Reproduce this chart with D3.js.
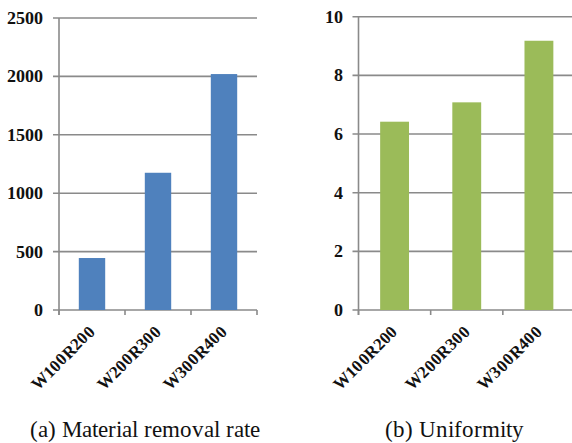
<!DOCTYPE html>
<html>
<head>
<meta charset="utf-8">
<script src="https://cdn.jsdelivr.net/npm/d3@7"></script>
<style>
  @font-face { font-family: "ChartSerif"; src: local("Liberation Serif"), local("LiberationSerif"), local("Times New Roman"); font-weight: 400; }
  @font-face { font-family: "ChartSerif"; src: local("Liberation Serif Bold"), local("LiberationSerif-Bold"), local("Times New Roman Bold"); font-weight: 700; }
  html, body { margin: 0; padding: 0; background: #fff; }
  svg { display: block; }
  svg text { font-family: "ChartSerif", "Liberation Serif", "Times New Roman", Tinos, FreeSerif; }
</style>
</head>
<body>
<svg id="chart" width="572" height="443"></svg>
<script>
// Processing conditions shared by both panels
const categories = ["W100R200", "W200R300", "W300R400"];

// (a) Material removal rate
const removalRate = [445, 1175, 2020];
const removalTicks = [0, 500, 1000, 1500, 2000, 2500];

// (b) Uniformity
const uniformity = [6.42, 7.08, 9.18];
const uniformityTicks = [0, 2, 4, 6, 8, 10];

const captions = ["(a) Material removal rate", "(b) Uniformity"];

const svg = d3.select("#chart");
const gridColor = "#8a8a8a";

function panel(opts) {
  const g = svg.append("g");
  const x = d3.scaleBand().domain(categories).range([opts.x0, opts.x1]).padding(0);
  const y = d3.scaleLinear().domain([0, opts.max]).range([opts.yBottom, opts.yTop]);

  // horizontal gridlines with short ticks outside the axis
  g.selectAll("line.grid").data(opts.ticks).join("line")
    .attr("class", "grid")
    .attr("x1", opts.x0 - 6).attr("x2", opts.x1)
    .attr("y1", d => y(d)).attr("y2", d => y(d))
    .attr("stroke", gridColor).attr("stroke-width", 1.6);

  // y tick labels
  g.selectAll("text.ytick").data(opts.ticks).join("text")
    .attr("class", "ytick")
    .attr("x", opts.x0 - 16)
    .attr("y", d => y(d))
    .attr("dy", "0.34em")
    .attr("text-anchor", "end")
    .attr("font-weight", "bold")
    .attr("font-size", 17.5)
    .attr("fill", "#111")
    .text(d => d);

  // bars
  const bw = x.bandwidth();
  g.selectAll("rect.bar").data(opts.values).join("rect")
    .attr("class", "bar")
    .attr("x", (d, i) => x(categories[i]) + bw * 0.3)
    .attr("width", bw * 0.4)
    .attr("y", d => y(d))
    .attr("height", d => y(0) - y(d))
    .attr("fill", opts.color);

  // vertical axis
  g.append("line")
    .attr("x1", opts.x0).attr("x2", opts.x0)
    .attr("y1", opts.yTop).attr("y2", opts.yBottom + 5)
    .attr("stroke", gridColor).attr("stroke-width", 1.6);

  // category ticks below the baseline
  const bounds = categories.map(c => x(c)).concat([opts.x1]);
  g.selectAll("line.xtick").data(bounds).join("line")
    .attr("class", "xtick")
    .attr("x1", d => d).attr("x2", d => d)
    .attr("y1", opts.yBottom).attr("y2", opts.yBottom + 5)
    .attr("stroke", gridColor).attr("stroke-width", 1.6);

  // rotated category labels
  g.selectAll("text.xlab").data(categories).join("text")
    .attr("class", "xlab")
    .attr("transform", d => `translate(${x(d) + bw / 2},${opts.yBottom + 18}) rotate(-45)`)
    .attr("text-anchor", "end")
    .attr("dy", "0.35em")
    .attr("font-weight", "bold")
    .attr("font-size", 17)
    .attr("fill", "#111")
    .text(d => d);

  // caption
  g.append("text")
    .attr("x", opts.captionX)
    .attr("y", 437)
    .attr("text-anchor", "middle")
    .attr("font-size", 22.5)
    .attr("fill", "#111")
    .text(opts.caption);
}

panel({
  x0: 59, x1: 257, yTop: 18, yBottom: 310,
  max: 2500, ticks: removalTicks, values: removalRate,
  color: "#4f81bd", caption: captions[0], captionX: 144.5
});

panel({
  x0: 358.5, x1: 575, yTop: 16.7, yBottom: 310,
  max: 10, ticks: uniformityTicks, values: uniformity,
  color: "#9bbb59", caption: captions[1], captionX: 454
});
</script>
</body>
</html>
